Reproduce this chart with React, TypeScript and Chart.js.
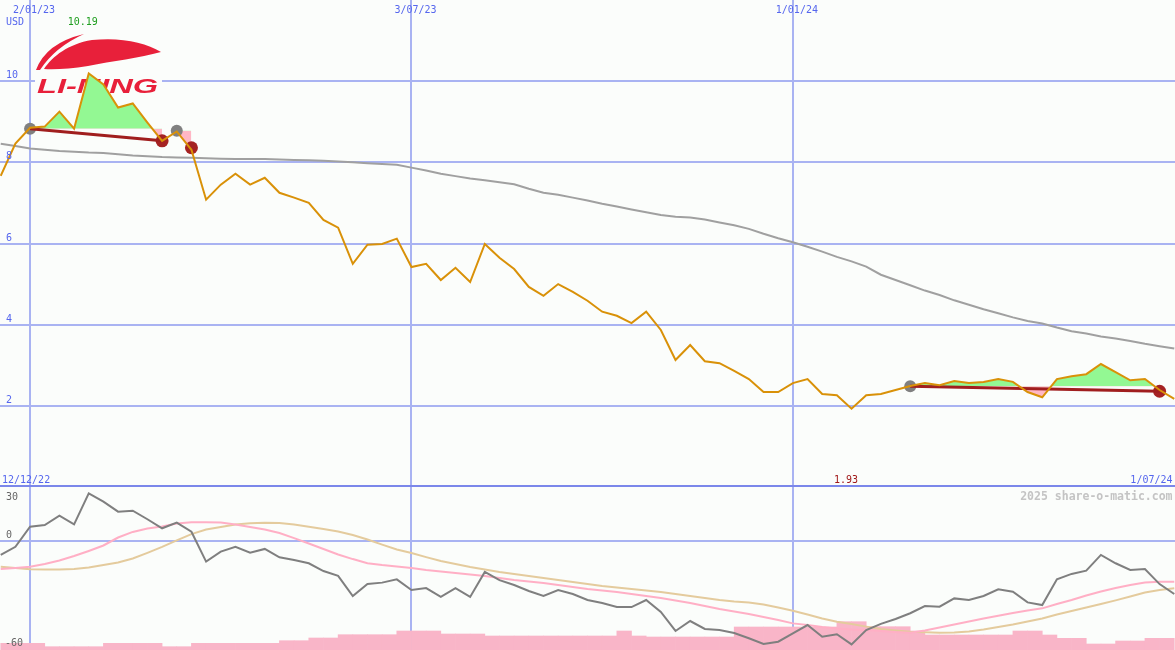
import React, { useEffect, useRef } from 'react';
import { Chart, registerables } from 'chart.js';

Chart.register(...registerables);

// ---------- data (weekly, index 0 = 19/12/22 ... index 80 = 1/07/24) ----------
const gridDateLabels = ['2/01/23', '3/07/23', '1/01/24'];
const gridDateIndex = [2, 28, 54];
const rangeStartLabel = '12/12/22';
const rangeEndLabel = '1/07/24';
const currencyLabel = 'USD';
const priceTicks = [2, 4, 6, 8, 10];
const lowerTickLabels = [30, 0, -60];
const watermark = '2025 share-o-matic.com';

const price = [
  7.67, 8.46, 8.85, 8.88, 9.25, 8.83, 10.19, 9.92, 9.35, 9.45,
  8.98, 8.53, 8.76, 8.31, 7.08, 7.45, 7.72, 7.45, 7.62, 7.25,
  7.13, 7.0, 6.58, 6.39, 5.5, 5.97, 5.99, 6.12, 5.42, 5.5,
  5.1, 5.4, 5.05, 5.99, 5.65, 5.37, 4.93, 4.71, 5.0, 4.81,
  4.59, 4.32, 4.22, 4.04, 4.32, 3.87, 3.13, 3.5, 3.1, 3.05,
  2.86, 2.66, 2.34, 2.34, 2.56, 2.66, 2.29, 2.26, 1.93, 2.26,
  2.29, 2.39, 2.49, 2.56, 2.51, 2.61, 2.56, 2.59, 2.66, 2.59,
  2.34, 2.21, 2.66, 2.73, 2.78, 3.03, 2.83, 2.63, 2.66, 2.39,
  2.17,
];

const movingAvg = [
  8.46, 8.4, 8.34, 8.31, 8.28, 8.26, 8.24, 8.23, 8.2, 8.17,
  8.15, 8.13, 8.12, 8.11, 8.1, 8.09, 8.08, 8.08, 8.08, 8.07,
  8.06, 8.05, 8.04, 8.02, 8.0, 7.98, 7.96, 7.94, 7.87, 7.8,
  7.72, 7.66, 7.6, 7.56, 7.51, 7.46, 7.35, 7.25, 7.2, 7.13,
  7.06, 6.98, 6.91, 6.84, 6.77, 6.7, 6.66, 6.64, 6.59, 6.52,
  6.45, 6.36, 6.24, 6.13, 6.03, 5.92, 5.8, 5.67, 5.56, 5.43,
  5.23, 5.1, 4.97, 4.84, 4.73, 4.6, 4.49, 4.38, 4.28, 4.18,
  4.09, 4.03, 3.93, 3.84, 3.78, 3.71, 3.66, 3.6, 3.53, 3.47,
  3.41,
];

// trend segments: [startIndex, endIndex, startValue, endValue]
const trendStartIdx = [2, 12, 62];
const trendEndIdx = [11, 13, 79];
const trendStartVal = [8.83, 8.78, 2.48];
const trendEndVal = [8.53, 8.36, 2.36];
const trendLineShown = [true, false, true];

const momentum = [
  -7.5, -3.0, 8.1, 9.0, 14.2, 9.4, 26.5, 21.9, 16.4, 16.9,
  12.2, 7.2, 10.3, 5.3, -11.2, -5.7, -3.0, -6.3, -4.2, -8.8,
  -10.3, -12.1, -16.4, -19.1, -30.2, -23.6, -22.8, -21.0, -26.9, -25.8,
  -30.7, -25.8, -30.7, -16.9, -21.4, -24.1, -27.4, -30.2, -26.9, -29.1,
  -32.4, -34.1, -36.3, -36.3, -32.4, -39.0, -49.5, -44.0, -48.4, -49.0,
  -50.6, -53.5, -56.7, -55.4, -50.8, -46.2, -52.7, -51.3, -56.9, -49.0,
  -45.6, -42.9, -39.7, -35.7, -36.1, -31.5, -32.4, -30.2, -26.5, -27.8,
  -33.7, -35.2, -21.0, -18.0, -16.2, -7.5, -12.1, -15.8, -15.3, -23.6,
  -29.1,
];

const signalFast = [
  -15.3, -14.7, -14.0, -12.5, -10.6, -8.1, -5.3, -2.3, 2.1, 5.2,
  7.1, 8.2, 9.8, 10.5, 10.5, 10.4, 9.3, 7.9, 6.5, 4.6,
  1.8, -1.2, -4.2, -7.3, -9.8, -12.1, -13.1, -13.9, -14.7, -15.8,
  -16.7, -17.5, -18.3, -19.1, -20.3, -21.4, -22.2, -23.0, -24.1, -25.2,
  -26.3, -27.2, -28.0, -29.1, -30.2, -31.3, -32.7, -34.1, -35.7, -37.4,
  -38.7, -40.1, -41.8, -43.4, -45.3, -46.2, -47.3, -48.1, -48.7, -49.0,
  -49.5, -50.1, -50.5, -49.2, -47.6, -45.9, -44.3, -42.6, -41.1, -39.6,
  -38.2, -37.0, -34.6, -32.4, -29.9, -27.7, -25.8, -24.1, -22.7, -22.3,
  -22.3,
];

const signalSlow = [
  -14.0, -14.7, -15.4, -15.6, -15.6, -15.3, -14.5, -13.1, -11.7, -9.5,
  -6.4, -3.1, 0.5, 4.0, 6.5, 7.9, 9.3, 10.0, 10.3, 10.1,
  9.3, 8.1, 6.8, 5.4, 3.5, 1.0, -1.8, -4.5, -6.4, -8.7,
  -10.9, -12.5, -14.2, -15.6, -16.9, -18.0, -19.1, -20.3, -21.4, -22.5,
  -23.6, -24.7, -25.5, -26.3, -27.2, -28.0, -29.1, -30.2, -31.3, -32.4,
  -33.2, -33.8, -34.9, -36.5, -38.3, -40.4, -42.6, -44.4, -45.7, -47.1,
  -48.4, -49.2, -49.9, -50.2, -50.5, -50.3, -49.8, -48.7, -47.3, -45.9,
  -44.3, -42.6, -40.4, -38.5, -36.5, -34.6, -32.6, -30.5, -28.3, -26.9,
  -25.9,
];

// weekly volume (relative units), bar j covers week j .. j+1
const volume = [
  6.7, 6.7, 6.7, 3.3, 3.3, 3.3, 3.3, 6.7, 6.7, 6.7,
  6.7, 3.3, 3.3, 6.7, 6.7, 6.7, 6.7, 6.7, 6.7, 9.3,
  9.3, 12, 12, 15.3, 15.3, 15.3, 15.3, 19, 19, 19,
  16, 16, 16, 14, 14, 14, 14, 14, 14, 14,
  14, 14, 19, 14, 13, 13, 13, 13, 13, 13,
  23, 23, 23, 23, 23, 23, 23, 28.3, 28.3, 23.3,
  23.3, 23.3, 19, 15, 15, 15, 15, 15, 15, 19,
  19, 15, 11.7, 11.7, 6, 6, 9, 9, 11.7, 11.7,
];

// ---------- styling ----------
const W = 1175;
const TOP_H = 487;
const BOT_H = 163;
const BG = '#fbfdfb';
const GRID = '#a9b3f2';
const SEP = '#7b87ea';
const BLUE_TXT = '#5566ee';
const MONO = '"DejaVu Sans Mono", monospace';
const X_MIN = -0.05;
const X_MAX = 80.05;

const pts = (arr: number[], start = 0, end = arr.length - 1) => {
  const out: { x: number; y: number }[] = [];
  for (let i = start; i <= end; i++) out.push({ x: i, y: arr[i] });
  return out;
};

const makeX = () => ({
  type: 'linear' as const,
  min: X_MIN,
  max: X_MAX,
  offset: false,
  afterBuildTicks: (s: any) => {
    s.ticks = gridDateIndex.map((v) => ({ value: v }));
  },
  ticks: { display: false },
  grid: { color: GRID, lineWidth: 2, drawTicks: false, tickLength: 0, offset: false },
  border: { display: false },
});

function drawLogo(ctx: CanvasRenderingContext2D) {
  ctx.save();
  ctx.fillStyle = BG;
  ctx.fillRect(35, 30, 127, 68);
  ctx.fillStyle = '#e8203a';
  // outer thin blade
  ctx.beginPath();
  ctx.moveTo(36, 70);
  ctx.quadraticCurveTo(46, 43, 84, 34);
  ctx.quadraticCurveTo(55, 47, 40, 70);
  ctx.closePath();
  ctx.fill();
  // wing
  ctx.beginPath();
  ctx.moveTo(44, 69);
  ctx.bezierCurveTo(53, 56, 68, 44, 92, 40);
  ctx.bezierCurveTo(120, 37, 145, 42, 161, 52);
  ctx.bezierCurveTo(140, 58, 112, 61, 88, 66);
  ctx.quadraticCurveTo(62, 70, 44, 69);
  ctx.closePath();
  ctx.fill();
  // wordmark
  ctx.translate(37, 93);
  ctx.scale(1.55, 1);
  ctx.font = 'italic bold 21px "Liberation Sans", Arial, sans-serif';
  ctx.textBaseline = 'alphabetic';
  ctx.textAlign = 'left';
  ctx.fillText('LI-NING', 0, 0);
  ctx.restore();
}

const topDecor = {
  id: 'topDecor',
  beforeDatasetsDraw(chart: any) {
    drawLogo(chart.ctx);
  },
  afterDraw(chart: any) {
    const ctx: CanvasRenderingContext2D = chart.ctx;
    const xs = chart.scales.x;
    const ys = chart.scales.y;
    ctx.save();
    ctx.font = `10px ${MONO}`;
    ctx.textBaseline = 'alphabetic';
    ctx.fillStyle = BLUE_TXT;
    ctx.textAlign = 'left';
    priceTicks.forEach((t) => ctx.fillText(String(t), 6, ys.getPixelForValue(t) - 3));
    ctx.fillText(currencyLabel, 6, 25);
    ctx.textAlign = 'center';
    gridDateIndex.forEach((idx, k) => ctx.fillText(gridDateLabels[k], xs.getPixelForValue(idx) + 4, 13));
    ctx.textAlign = 'left';
    ctx.fillText(rangeStartLabel, 2, 483);
    ctx.textAlign = 'right';
    ctx.fillText(rangeEndLabel, W - 2.5, 483);
    // max / min
    let maxI = 0;
    let minI = 0;
    price.forEach((v, i) => {
      if (v > price[maxI]) maxI = i;
      if (v < price[minI]) minI = i;
    });
    ctx.textAlign = 'center';
    ctx.fillStyle = '#1f9e1f';
    ctx.fillText(price[maxI].toFixed(2), xs.getPixelForValue(maxI) - 6, 25);
    ctx.fillStyle = '#a01818';
    ctx.fillText(price[minI].toFixed(2), xs.getPixelForValue(minI) - 5.5, 483);
    // separator
    ctx.fillStyle = SEP;
    ctx.fillRect(0, TOP_H - 2, W, 2);
    ctx.restore();
  },
};

const botDecor = {
  id: 'botDecor',
  afterDraw(chart: any) {
    const ctx: CanvasRenderingContext2D = chart.ctx;
    const ys = chart.scales.y;
    ctx.save();
    ctx.font = `10px ${MONO}`;
    ctx.textBaseline = 'alphabetic';
    ctx.textAlign = 'left';
    ctx.fillStyle = '#666666';
    ctx.fillText(String(lowerTickLabels[0]), 6, 13);
    ctx.fillText(String(lowerTickLabels[1]), 6, ys.getPixelForValue(0) - 3);
    ctx.fillText(String(lowerTickLabels[2]), 5, BOT_H - 4.3);
    ctx.font = `bold 11.5px ${MONO}`;
    ctx.fillStyle = '#c4c4c4';
    ctx.textAlign = 'right';
    ctx.fillText(watermark, W - 2.5, 13);
    ctx.restore();
  },
};

export default function App() {
  const topRef = useRef<HTMLCanvasElement>(null);
  const botRef = useRef<HTMLCanvasElement>(null);

  useEffect(() => {
    document.body.style.margin = '0';
    if (!topRef.current || !botRef.current) return;

    const trendDatasets = trendStartIdx
      .map((s, k) => ({ s, k }))
      .filter(({ k }) => trendLineShown[k])
      .map(({ s, k }) => ({
        label: `trend${k}`,
        data: [
          { x: s, y: trendStartVal[k] },
          { x: trendEndIdx[k], y: trendEndVal[k] },
        ],
        borderColor: '#a01e1e',
        borderWidth: 3,
        pointRadius: 0,
        fill: false,
      }));

    const nBefore = 1 + trendDatasets.length + 2; // price + trends + 2 dot sets
    const nSeg = trendStartIdx.length;
    const fillDatasets = trendStartIdx.map((s, k) => ({
      label: `fill${k}`,
      data: pts(price, s, trendEndIdx[k]),
      borderColor: 'transparent',
      borderWidth: 0,
      pointRadius: 0,
      fill: { target: nBefore + nSeg + k, above: '#93f893', below: '#ffb7c5' },
    }));
    const levelDatasets = trendStartIdx.map((s, k) => ({
      label: `level${k}`,
      data: [
        { x: s, y: trendStartVal[k] },
        { x: trendEndIdx[k], y: trendStartVal[k] },
      ],
      borderColor: 'transparent',
      borderWidth: 0,
      pointRadius: 0,
      fill: false,
    }));

    const top = new Chart(topRef.current, {
      type: 'line',
      data: {
        datasets: [
          {
            label: 'price',
            data: pts(price),
            borderColor: '#d99108',
            borderWidth: 2,
            pointRadius: 0,
            fill: false,
          },
          ...trendDatasets,
          {
            label: 'start',
            data: trendStartIdx.map((s, k) => ({ x: s, y: trendStartVal[k] })),
            showLine: false,
            pointRadius: 6,
            pointBackgroundColor: '#808080',
            pointBorderWidth: 0,
            borderColor: '#808080',
          },
          {
            label: 'end',
            data: trendEndIdx.map((s, k) => ({ x: s, y: trendEndVal[k] })),
            showLine: false,
            pointRadius: 6.5,
            pointBackgroundColor: '#a52222',
            pointBorderWidth: 0,
            borderColor: '#a52222',
          },
          ...fillDatasets,
          ...levelDatasets,
          {
            label: 'ma',
            data: pts(movingAvg),
            borderColor: '#a0a0a0',
            borderWidth: 2,
            pointRadius: 0,
            fill: false,
          },
        ] as any,
      },
      options: {
        responsive: false,
        animation: false,
        events: [],
        layout: { padding: 0, autoPadding: false },
        plugins: { legend: { display: false }, tooltip: { enabled: false } },
        scales: {
          x: makeX() as any,
          y: {
            type: 'linear',
            min: 0,
            max: 12,
            afterBuildTicks: (s: any) => {
              s.ticks = priceTicks.map((v) => ({ value: v }));
            },
            ticks: { display: false },
            grid: { color: GRID, lineWidth: 2, drawTicks: false, tickLength: 0 },
            border: { display: false },
          },
        },
      } as any,
      plugins: [topDecor],
    });

    const bot = new Chart(botRef.current, {
      type: 'line',
      data: {
        datasets: [
          {
            label: 'momentum',
            data: pts(momentum),
            borderColor: '#7f7f7f',
            borderWidth: 2,
            pointRadius: 0,
            fill: false,
          },
          {
            label: 'fast',
            data: pts(signalFast),
            borderColor: '#ffafc5',
            borderWidth: 2,
            pointRadius: 0,
            fill: false,
          },
          {
            label: 'slow',
            data: pts(signalSlow),
            borderColor: '#e4cb9d',
            borderWidth: 2,
            pointRadius: 0,
            fill: false,
          },
          {
            type: 'bar',
            label: 'volume',
            data: volume.map((v, j) => ({ x: j + 0.5, y: v })),
            yAxisID: 'yv',
            backgroundColor: '#f9b5c8',
            borderWidth: 0,
            barPercentage: 1,
            categoryPercentage: 1,
            grouped: false,
          },
        ] as any,
      },
      options: {
        responsive: false,
        animation: false,
        events: [],
        layout: { padding: 0, autoPadding: false },
        plugins: { legend: { display: false }, tooltip: { enabled: false } },
        scales: {
          x: makeX() as any,
          y: {
            type: 'linear',
            min: -60,
            max: 30,
            afterBuildTicks: (s: any) => {
              s.ticks = [{ value: 0 }];
            },
            ticks: { display: false },
            grid: { color: GRID, lineWidth: 2, drawTicks: false, tickLength: 0 },
            border: { display: false },
          },
          yv: {
            type: 'linear',
            min: 0,
            max: BOT_H,
            display: false,
          },
        },
      } as any,
      plugins: [botDecor],
    });

    return () => {
      top.destroy();
      bot.destroy();
    };
  }, []);

  return (
    <div style={{ position: 'relative', width: W, height: TOP_H + BOT_H, background: BG, overflow: 'hidden' }}>
      <canvas ref={topRef} width={W} height={TOP_H} style={{ position: 'absolute', left: 0, top: 0, display: 'block' }} />
      <canvas ref={botRef} width={W} height={BOT_H} style={{ position: 'absolute', left: 0, top: TOP_H, display: 'block' }} />
    </div>
  );
}
